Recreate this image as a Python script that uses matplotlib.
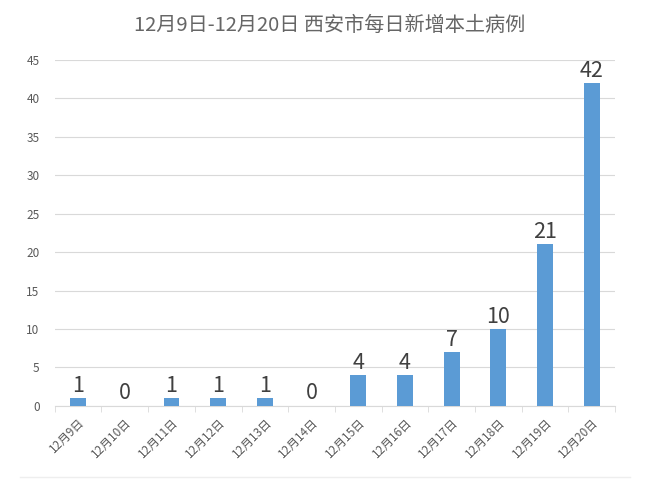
import matplotlib
matplotlib.use("Agg")
import matplotlib.pyplot as plt
from matplotlib.lines import Line2D
import numpy as np

plt.rcParams['font.family'] = ['Noto Sans CJK SC', 'DejaVu Sans']

days = ["12月9日", "12月10日", "12月11日", "12月12日", "12月13日", "12月14日",
        "12月15日", "12月16日", "12月17日", "12月18日", "12月19日", "12月20日"]
cases = [1, 0, 1, 1, 1, 0, 4, 4, 7, 10, 21, 42]
yticks = [0, 5, 10, 15, 20, 25, 30, 35, 40, 45]

fig = plt.figure(figsize=(6.6, 4.92), dpi=100)
ax = fig.add_axes([0.083, 0.175, 0.849, 0.703])

x = np.arange(len(days))
bars = ax.bar(x, cases, width=0.34, color="#5b9bd5", zorder=3)

for xi, v in zip(x, cases):
    ax.text(xi, v + 0.2, str(v), ha="center", va="bottom",
            fontsize=15.5, color="#404040")

ax.set_xlim(-0.5, len(days) - 0.5)
ax.set_ylim(0, 45)
ax.set_yticks(yticks)
ax.set_yticklabels([str(t) for t in yticks], fontsize=8.5, color="#595959")
ax.yaxis.grid(True, color="#d9d9d9", linewidth=0.8, zorder=0)
ax.tick_params(axis="y", length=0, pad=11)

ax.set_xticks(x)
ax.set_xticklabels(days, rotation=45, ha="right", rotation_mode="anchor",
                   fontsize=8.5, color="#595959")
ax.tick_params(axis="x", length=0, pad=7)
ax.set_xticks(np.arange(-0.5, len(days)), minor=True)
ax.tick_params(axis="x", which="minor", length=4, color="#d9d9d9")

for side in ["top", "right", "left"]:
    ax.spines[side].set_visible(False)
ax.spines["bottom"].set_color("#d9d9d9")

fig.text(0.5, 0.948, "12月9日-12月20日 西安市每日新增本土病例",
         ha="center", va="center", fontsize=14.5, color="#666666")

fig.add_artist(Line2D([0.03, 0.955], [0.03, 0.03], color="#eeeeee", linewidth=1))

fig.savefig("out.png", dpi=100, facecolor="white")
